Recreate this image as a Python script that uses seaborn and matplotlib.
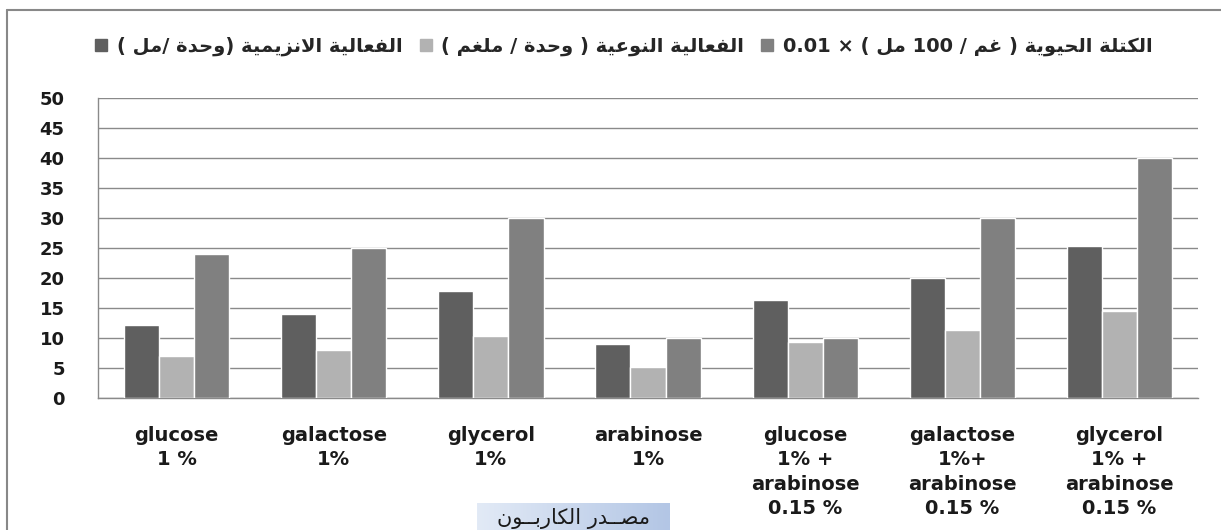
import re
import numpy as np
import seaborn as sns
import matplotlib.pyplot as plt
import pandas as pd
from matplotlib.lines import Line2D
from matplotlib.colors import LinearSegmentedColormap

# ---- data ----
sources = ["glucose\n1 %", "galactose\n1%", "glycerol\n1%", "arabinose\n1%",
           "glucose\n1% +\narabinose\n0.15 %", "galactose\n1%+\narabinose\n0.15 %",
           "glycerol\n1% +\narabinose\n0.15 %"]
enzyme_activity = [12.2, 14.0, 17.8, 9.0, 16.3, 20.0, 25.3]
specific_activity = [7.0, 8.0, 10.3, 5.2, 9.3, 11.3, 14.5]
biomass = [24.0, 25.0, 30.0, 10.0, 10.0, 30.0, 40.0]

series_names = ["الفعالية الانزيمية (وحدة /مل )",
                "الفعالية النوعية ( وحدة / ملغم )",
                "الكتلة الحيوية ( غم / 100 مل ) × 0.01"]
x_title = "مصــدر الكاربــون"
colors = ["#5f5f5f", "#b2b2b2", "#808080"]

# ---- minimal Arabic shaping (matplotlib has no shaping / bidi) ----
FORMS = {  # isolated, final, initial, medial
    'ا': ('\uFE8D', '\uFE8E', None, None),
    'ب': ('\uFE8F', '\uFE90', '\uFE91', '\uFE92'),
    'ة': ('\uFE93', '\uFE94', None, None),
    'ت': ('\uFE95', '\uFE96', '\uFE97', '\uFE98'),
    'ح': ('\uFEA1', '\uFEA2', '\uFEA3', '\uFEA4'),
    'د': ('\uFEA9', '\uFEAA', None, None),
    'ر': ('\uFEAD', '\uFEAE', None, None),
    'ز': ('\uFEAF', '\uFEB0', None, None),
    'ص': ('\uFEB9', '\uFEBA', '\uFEBB', '\uFEBC'),
    'ع': ('\uFEC9', '\uFECA', '\uFECB', '\uFECC'),
    'غ': ('\uFECD', '\uFECE', '\uFECF', '\uFED0'),
    'ف': ('\uFED1', '\uFED2', '\uFED3', '\uFED4'),
    'ك': ('\uFED9', '\uFEDA', '\uFEDB', '\uFEDC'),
    'ل': ('\uFEDD', '\uFEDE', '\uFEDF', '\uFEE0'),
    'م': ('\uFEE1', '\uFEE2', '\uFEE3', '\uFEE4'),
    'ن': ('\uFEE5', '\uFEE6', '\uFEE7', '\uFEE8'),
    'و': ('\uFEED', '\uFEEE', None, None),
    'ي': ('\uFEF1', '\uFEF2', '\uFEF3', '\uFEF4'),
}
TATWEEL = 'ـ'


def joins_next(c):
    return c == TATWEEL or (c in FORMS and FORMS[c][2] is not None)


def joinable(c):
    return c == TATWEEL or c in FORMS


def rtl(s):
    out = []
    i = 0
    while i < len(s):
        c = s[i]
        prev = s[i - 1] if i > 0 else ' '
        if c == 'ل' and i + 1 < len(s) and s[i + 1] == 'ا':
            out.append('\uFEFC' if joins_next(prev) else '\uFEFB')
            i += 2
            continue
        if c in FORMS:
            nxt = s[i + 1] if i + 1 < len(s) else ' '
            p = joins_next(prev)
            n = FORMS[c][2] is not None and joinable(nxt)
            iso, fin, ini, med = FORMS[c]
            out.append(med if p and n else ini if n else fin if p else iso)
        else:
            out.append(c)
        i += 1
    vis = ''.join(out)[::-1]
    vis = re.sub(r'[0-9.A-Za-z]+', lambda m: m.group(0)[::-1], vis)
    return vis.translate(str.maketrans('()', ')('))


df = pd.DataFrame({
    "source": sources * 3,
    "series": [n for n in series_names for _ in sources],
    "value": enzyme_activity + specific_activity + biomass,
})

sns.set_style("white")
fig = plt.figure(figsize=(12.21, 5.30), dpi=100)
W, H = 1221, 530
ax = fig.add_axes([98 / W, 1 - 398 / H, 1100 / W, 300 / H])

sns.barplot(data=df, x="source", y="value", hue="series", palette=colors,
            width=0.67, gap=0, saturation=1, ax=ax, legend=False, zorder=3)

ax.set_ylim(0, 50)
ax.set_xlim(-0.5, len(sources) - 0.5)
ax.set_yticks(range(0, 51, 5))
ax.yaxis.grid(True, color="#8a8a8a", lw=1, zorder=0)
ax.set_axisbelow(True)
for side in ["top", "right"]:
    ax.spines[side].set_visible(False)
for side in ["left", "bottom"]:
    ax.spines[side].set_color("#8a8a8a")
    ax.spines[side].set_linewidth(1)

ax.set_xlabel("")
ax.set_ylabel("")
ax.set_xticks(range(len(sources)))
ax.set_xticklabels(sources, fontfamily="DejaVu Sans", fontweight="bold", fontsize=14,
                   linespacing=1.37, va="top")
ax.tick_params(axis="x", length=0, pad=20, colors="#1a1a1a")
ax.set_xticks([i - 0.5 for i in range(len(sources) + 1)], minor=True)
ax.tick_params(axis="x", which="minor", length=7, color="#8a8a8a", width=1)
ax.tick_params(axis="y", length=11, color="#8a8a8a", width=1, pad=13,
               labelcolor="#1a1a1a")
for lbl in ax.get_yticklabels():
    lbl.set_fontfamily("DejaVu Sans")
    lbl.set_fontweight("bold")
    lbl.set_fontsize(13)

# legend
handles = [Line2D([], [], marker="s", ls="none", markersize=9, color=c) for c in colors]
fig.legend(handles, [rtl(n) for n in series_names], loc="center",
           bbox_to_anchor=(622 / W, 1 - 46 / H), ncol=3, frameon=False,
           prop={"family": "DejaVu Sans", "weight": "bold", "size": 14},
           handletextpad=0.3, handlelength=1.0, columnspacing=0.7, borderaxespad=0)

# x axis title with gradient box
box = fig.add_axes([477 / W, 0, 193 / W, 27 / H])
cmap = LinearSegmentedColormap.from_list("box", ["#e2eaf6", "#b3c6e5"])
box.imshow(np.linspace(0, 1, 100)[None, :], cmap=cmap, aspect="auto", extent=(0, 1, 0, 1))
box.set_axis_off()
box.text(0.5, 0.42, rtl(x_title), ha="center", va="center", fontsize=15,
         family="DejaVu Sans", color="#1a1a1a", transform=box.transAxes)

# outer chart frame (cropped at right and bottom)
fig.add_artist(Line2D([7 / W, 7 / W], [0, 1 - 10 / H], color="#888888", lw=1.5))
fig.add_artist(Line2D([7 / W, 1.01], [1 - 10 / H, 1 - 10 / H], color="#888888", lw=1.5))

fig.savefig("out.png", dpi=100)
